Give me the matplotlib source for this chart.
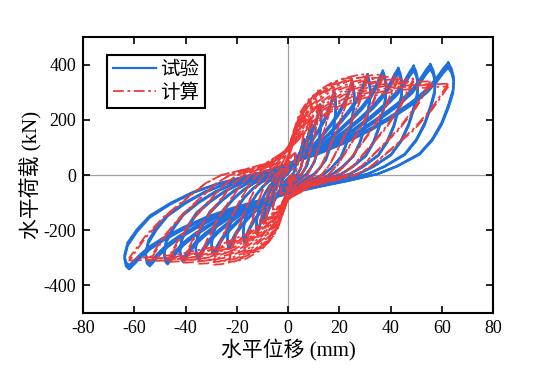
import numpy as np
import matplotlib
matplotlib.use("Agg")
import matplotlib.pyplot as plt

plt.rcParams['font.family'] = ['Liberation Serif', 'Noto Sans CJK SC']
plt.rcParams['axes.unicode_minus'] = False

# ---------------- peak values ---------------- #
amp_pos = [3, 6, 9, 12.5, 18, 25, 31, 37, 43, 49, 55.5, 62.5]   # mm
amp_neg = [3, 6, 9, 12, 17, 23, 29, 35, 41, 47, 54, 62]         # mm (magnitude)

test_pos = [70, 130, 190, 255, 305, 340, 365, 378, 388, 396, 402, 408]       # kN
test_neg = [-60, -115, -170, -215, -245, -268, -290, -305, -315, -324, -331, -342]
calc_pos = [80, 150, 210, 250, 320, 352, 366, 365, 358, 350, 340, 331]
calc_neg = [-70, -125, -180, -220, -285, -315, -325, -322, -318, -315, -312, -310]

# repeated cycles at each amplitude (peak ratio)
test_cycles = [1.0, 0.975, 0.955]
calc_cycles = [1.0, 0.97]

# loop shape (fraction of amplitude / fraction of peak)
test_u = [1.00, 1.02, 1.035, 1.03, 1.00, 0.96, 0.90, 0.82, 0.68, 0.56, 0.38, 0.18, 0.00,
          -0.18, -0.36, -0.52, -0.66, -0.78, -0.87, -0.93, -0.97, -1.00, -1.02, -1.03,
          -1.01, -0.95, -0.87, -0.74, -0.60, -0.45, -0.30, -0.15, 0.00, 0.18, 0.36,
          0.52, 0.66, 0.78, 0.87, 0.93, 0.97, 1.00]
test_v = [1.00, 0.95, 0.87, 0.76, 0.62, 0.47, 0.32, 0.19, 0.08, 0.01, -0.06, -0.13, -0.20,
          -0.28, -0.37, -0.47, -0.58, -0.69, -0.79, -0.88, -0.95, -1.00, -0.97, -0.89,
          -0.75, -0.60, -0.45, -0.31, -0.19, -0.10, -0.03, 0.03, 0.10, 0.19, 0.30,
          0.42, 0.54, 0.66, 0.77, 0.87, 0.95, 1.00]
calc_u = [1.00, 0.90, 0.78, 0.64, 0.52, 0.42, 0.30, 0.15, 0.00, -0.12, -0.25, -0.45,
          -0.70, -0.90, -1.00, -0.90, -0.78, -0.64, -0.52, -0.42, -0.30, -0.15, 0.00,
          0.12, 0.25, 0.45, 0.70, 0.90, 1.00]
calc_v = [1.00, 0.74, 0.50, 0.28, 0.10, 0.00, -0.06, -0.13, -0.28, -0.50, -0.70, -0.86,
          -0.96, -0.995, -1.00, -0.74, -0.50, -0.28, -0.10, 0.00, 0.05, 0.12, 0.28,
          0.50, 0.70, 0.86, 0.96, 0.995, 1.00]


def loop(u, v, a_pos, a_neg, p_pos, p_neg):
    u = np.array(u)
    v = np.array(v)
    x = np.where(u >= 0, u * a_pos, u * a_neg)
    y = np.where(v >= 0, v * p_pos, v * abs(p_neg))
    return x, y


fig, ax = plt.subplots(figsize=(5.54, 3.72), dpi=100)
fig.subplots_adjust(left=0.150, right=0.890, bottom=0.159, top=0.900)

ax.axhline(0, color="#a0a0a0", lw=0.9, zorder=0)
ax.axvline(0, color="#a0a0a0", lw=0.9, zorder=0)

blue = "#1f6fdc"
red = "#f03a3a"

for i in range(len(amp_pos)):
    for k, c in enumerate(test_cycles):
        x, y = loop(test_u, test_v, amp_pos[i], amp_neg[i], test_pos[i] * c, test_neg[i] * c)
        ax.plot(x, y, color=blue, lw=1.6, label="试验" if (i == 0 and k == 0) else None)

for i in range(len(amp_pos)):
    for k, c in enumerate(calc_cycles):
        x, y = loop(calc_u, calc_v, amp_pos[i], amp_neg[i], calc_pos[i] * c, calc_neg[i] * c)
        ax.plot(x, y, color=red, lw=1.3, linestyle=(0, (6, 2, 1.5, 2)),
                label="计算" if (i == 0 and k == 0) else None)

ax.set_xlim(-80, 80)
ax.set_ylim(-500, 500)
ax.set_xticks(np.arange(-80, 81, 20))
ax.set_yticks([-400, -200, 0, 200, 400])
ax.tick_params(direction="in", length=5, width=1.2, top=True, right=True,
               labelsize=13, pad=5)
for s in ax.spines.values():
    s.set_linewidth(1.5)

ax.set_xlabel("水平位移 (mm)", fontsize=15, labelpad=1)
ax.set_ylabel("水平荷载 (kN)", fontsize=15, labelpad=1)

leg = ax.legend(loc="upper left", bbox_to_anchor=(0.0585, 0.935), borderaxespad=0,
                fontsize=14, handlelength=2.2, handletextpad=0.25, borderpad=0.3,
                labelspacing=0.25, fancybox=False, framealpha=1, edgecolor="black")
leg.get_frame().set_linewidth(1.5)

plt.savefig("out.png", dpi=100)
